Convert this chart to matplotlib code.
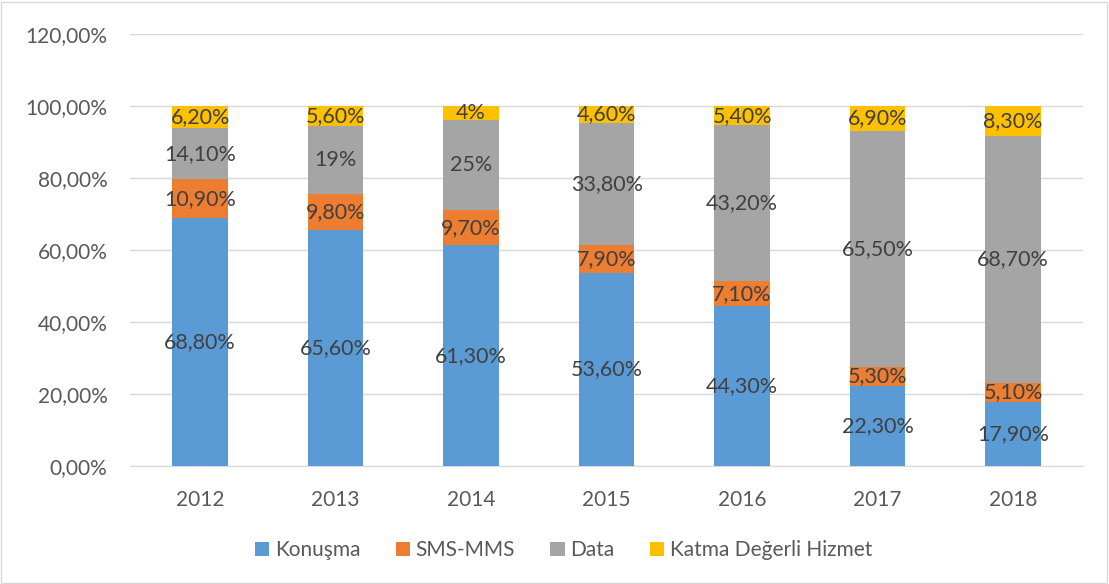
import matplotlib
matplotlib.use("Agg")
import matplotlib.pyplot as plt
from matplotlib.patches import Rectangle

years = ["2012", "2013", "2014", "2015", "2016", "2017", "2018"]
konusma = [68.8, 65.6, 61.3, 53.6, 44.3, 22.3, 17.9]
sms = [10.9, 9.8, 9.7, 7.9, 7.1, 5.3, 5.1]
data = [14.1, 19.0, 25.0, 33.8, 43.2, 65.5, 68.7]
katma = [6.2, 5.6, 4.0, 4.6, 5.4, 6.9, 8.3]

konusma_lbl = ["68,80%", "65,60%", "61,30%", "53,60%", "44,30%", "22,30%", "17,90%"]
sms_lbl = ["10,90%", "9,80%", "9,70%", "7,90%", "7,10%", "5,30%", "5,10%"]
data_lbl = ["14,10%", "19%", "25%", "33,80%", "43,20%", "65,50%", "68,70%"]
katma_lbl = ["6,20%", "5,60%", "4%", "4,60%", "5,40%", "6,90%", "8,30%"]

series_names = ["Konuşma", "SMS-MMS", "Data", "Katma Değerli Hizmet"]
colors = ["#5B9BD5", "#ED7D31", "#A5A5A5", "#FFC000"]

plt.rcParams['font.family'] = ['Lato', 'DejaVu Sans']

fig = plt.figure(figsize=(11.09, 5.84), dpi=100)
ax = fig.add_axes([0.117, 0.202, 0.860, 0.740])

x = list(range(len(years)))
w = 0.41
bottom = [0.0] * len(years)
for vals, lbls, name, c in zip([konusma, sms, data, katma],
                               [konusma_lbl, sms_lbl, data_lbl, katma_lbl],
                               series_names, colors):
    ax.bar(x, vals, w, bottom=bottom, color=c, label=name, zorder=3)
    for i, (b, v, l) in enumerate(zip(bottom, vals, lbls)):
        top = min(b + v, 100)
        ax.text(x[i], (b + top) / 2, l, ha='center', va='center',
                fontsize=15.5, color='#404040', zorder=4)
    bottom = [b + v for b, v in zip(bottom, vals)]

ax.set_ylim(0, 120)
ax.set_xlim(-0.52, 6.52)
ax.set_yticks(range(0, 121, 20))
ax.set_yticklabels([f"{v},00%" for v in range(0, 121, 20)])
ax.set_xticks(x)
ax.set_xticklabels(years)
ax.tick_params(axis='both', length=0, labelsize=15, colors='#595959')
ax.tick_params(axis='y', pad=16)
ax.tick_params(axis='x', pad=17)
ax.yaxis.grid(True, color='#D9D9D9', linewidth=1, zorder=0)
for s in ['left', 'right', 'top']:
    ax.spines[s].set_visible(False)
ax.spines['bottom'].set_color('#D9D9D9')

leg = fig.legend(loc='center', bbox_to_anchor=(0.508, 0.058), ncol=4, frameon=False,
                 fontsize=15, handlelength=0.7, handleheight=0.7,
                 columnspacing=1.7, handletextpad=0.25)
for t in leg.get_texts():
    t.set_color('#595959')

fig.patches.append(Rectangle((0.001, 0.002), 0.997, 0.995, transform=fig.transFigure,
                             fill=False, edgecolor='#D9D9D9', linewidth=1))

fig.savefig("out.png", dpi=100)
